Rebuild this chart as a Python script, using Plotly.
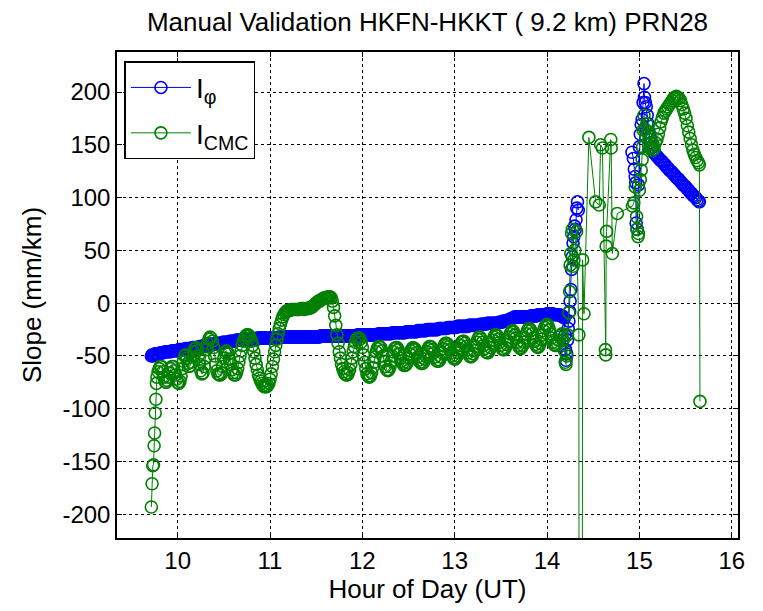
import plotly.graph_objects as go

# epochs (hour of day, UT) shared by both series over the long quiet stretch
hours = [
    9.775, 9.7875, 9.8, 9.8125, 9.825, 9.8375, 9.85, 9.8625, 9.875, 9.8875, 9.9, 9.9125, 9.925, 9.9375, 9.95, 9.9625, 9.975, 9.9875,
    10.0, 10.0125, 10.025, 10.0375, 10.05, 10.0625, 10.075, 10.0875, 10.1, 10.1125, 10.125, 10.1375, 10.15, 10.1625, 10.175, 10.1875,
    10.2, 10.2125, 10.225, 10.2375, 10.25, 10.2625, 10.275, 10.2875, 10.3, 10.3125, 10.325, 10.3375, 10.35, 10.3625, 10.375, 10.3875,
    10.4, 10.4125, 10.425, 10.4375, 10.45, 10.4625, 10.475, 10.4875, 10.5, 10.5125, 10.525, 10.5375, 10.55, 10.5625, 10.575, 10.5875,
    10.6, 10.6125, 10.625, 10.6375, 10.65, 10.6625, 10.675, 10.6875, 10.7, 10.7125, 10.725, 10.7375, 10.75, 10.7625, 10.775, 10.7875,
    10.8, 10.8125, 10.825, 10.8375, 10.85, 10.8625, 10.875, 10.8875, 10.9, 10.9125, 10.925, 10.9375, 10.95, 10.9625, 10.975, 10.9875,
    11.0, 11.0125, 11.025, 11.0375, 11.05, 11.0625, 11.075, 11.0875, 11.1, 11.1125, 11.125, 11.1375, 11.15, 11.1625, 11.175, 11.1875,
    11.2, 11.2125, 11.225, 11.2375, 11.25, 11.2625, 11.275, 11.2875, 11.3, 11.3125, 11.325, 11.3375, 11.35, 11.3625, 11.375, 11.3875,
    11.4, 11.4125, 11.425, 11.4375, 11.45, 11.4625, 11.475, 11.4875, 11.5, 11.5125, 11.525, 11.5375, 11.55, 11.5625, 11.575, 11.5875,
    11.6, 11.6125, 11.625, 11.6375, 11.65, 11.6625, 11.675, 11.6875, 11.7, 11.7125, 11.725, 11.7375, 11.75, 11.7625, 11.775, 11.7875,
    11.8, 11.8125, 11.825, 11.8375, 11.85, 11.8625, 11.875, 11.8875, 11.9, 11.9125, 11.925, 11.9375, 11.95, 11.9625, 11.975, 11.9875,
    12.0, 12.0125, 12.025, 12.0375, 12.05, 12.0625, 12.075, 12.0875, 12.1, 12.1125, 12.125, 12.1375, 12.15, 12.1625, 12.175, 12.1875,
    12.2, 12.2125, 12.225, 12.2375, 12.25, 12.2625, 12.275, 12.2875, 12.3, 12.3125, 12.325, 12.3375, 12.35, 12.3625, 12.375, 12.3875,
    12.4, 12.4125, 12.425, 12.4375, 12.45, 12.4625, 12.475, 12.4875, 12.5, 12.5125, 12.525, 12.5375, 12.55, 12.5625, 12.575, 12.5875,
    12.6, 12.6125, 12.625, 12.6375, 12.65, 12.6625, 12.675, 12.6875, 12.7, 12.7125, 12.725, 12.7375, 12.75, 12.7625, 12.775, 12.7875,
    12.8, 12.8125, 12.825, 12.8375, 12.85, 12.8625, 12.875, 12.8875, 12.9, 12.9125, 12.925, 12.9375, 12.95, 12.9625, 12.975, 12.9875,
    13.0, 13.0125, 13.025, 13.0375, 13.05, 13.0625, 13.075, 13.0875, 13.1, 13.1125, 13.125, 13.1375, 13.15, 13.1625, 13.175, 13.1875,
    13.2, 13.2125, 13.225, 13.2375, 13.25, 13.2625, 13.275, 13.2875, 13.3, 13.3125, 13.325, 13.3375, 13.35, 13.3625, 13.375, 13.3875,
    13.4, 13.4125, 13.425, 13.4375, 13.45, 13.4625, 13.475, 13.4875, 13.5, 13.5125, 13.525, 13.5375, 13.55, 13.5625, 13.575, 13.5875,
    13.6, 13.6125, 13.625, 13.6375, 13.65, 13.6625, 13.675, 13.6875, 13.7, 13.7125, 13.725, 13.7375, 13.75, 13.7625, 13.775, 13.7875,
    13.8, 13.8125, 13.825, 13.8375, 13.85, 13.8625, 13.875, 13.8875, 13.9, 13.9125, 13.925, 13.9375, 13.95, 13.9625, 13.975, 13.9875,
    14.0, 14.0125, 14.025, 14.0375, 14.05, 14.0625, 14.075, 14.0875, 14.1, 14.1125, 14.125, 14.1375, 14.15, 14.1625, 14.175, 14.1875,
]

# I_phi slope (mm/km) on those epochs
i_phi = [
    -48, -48, -48, -47, -47, -47, -47, -46, -46, -46, -46, -46, -46, -45, -45, -45, -45, -45,
    -45, -44, -44, -44, -44, -44, -44, -43, -43, -43, -43, -43, -43, -42, -42, -42,
    -42, -42, -42, -41, -41, -41, -41, -40, -40, -40, -40, -40, -40, -39, -39, -39,
    -39, -38, -38, -38, -38, -38, -38, -37, -37, -37, -37, -37, -37, -36, -36, -36,
    -36, -36, -36, -35, -35, -35, -35, -35, -35, -35, -35, -34, -34, -34, -34, -34,
    -34, -34, -34, -34, -34, -33, -33, -33, -33, -33, -33, -33, -33, -33, -33, -33,
    -33, -33, -33, -33, -33, -33, -33, -33, -32, -32, -32, -32, -32, -32, -32, -32,
    -32, -32, -32, -32, -32, -32, -32, -32, -32, -32, -32, -32, -32, -32, -32, -32,
    -32, -32, -32, -32, -32, -32, -32, -32, -32, -32, -32, -32, -31, -31, -31, -31,
    -31, -31, -31, -31, -31, -31, -31, -31, -31, -31, -31, -31, -31, -31, -31, -31,
    -31, -31, -31, -31, -31, -31, -31, -31, -31, -31, -31, -31, -30, -30, -30, -30,
    -30, -30, -30, -30, -30, -30, -30, -30, -30, -30, -30, -30, -30, -30, -29, -29,
    -29, -29, -29, -29, -29, -29, -29, -29, -29, -29, -28, -28, -28, -28, -28, -28,
    -28, -28, -28, -28, -28, -28, -27, -27, -27, -27, -27, -27, -27, -27, -27, -27,
    -26, -26, -26, -26, -26, -26, -26, -26, -25, -25, -25, -25, -25, -25, -25, -25,
    -25, -25, -24, -24, -24, -24, -24, -24, -24, -24, -23, -23, -23, -23, -23, -23,
    -23, -23, -22, -22, -22, -22, -22, -22, -22, -22, -22, -22, -21, -21, -21, -21,
    -21, -21, -21, -21, -21, -21, -20, -20, -20, -20, -20, -20, -19, -19, -19, -19,
    -19, -19, -19, -19, -19, -19, -18, -18, -18, -18, -17, -17, -17, -17, -16, -16,
    -15, -15, -14, -14, -13, -13, -13, -13, -13, -13, -13, -13, -13, -13, -13, -13,
    -13, -13, -12, -12, -12, -12, -12, -12, -11, -11, -11, -11, -11, -11, -11, -11,
    -10, -10, -10, -10, -10, -10, -11, -11, -11, -11, -11, -11, -12, -12, -13, -14,
]

# I_CMC slope (mm/km) on those epochs
i_cmc = [
    -70, -65, -62, -60, -60, -65, -70, -74, -75, -73, -70, -66, -62, -60, -60, -64, -68, -72,
    -75, -76, -74, -69, -62, -55, -50, -49, -52, -57, -60, -59, -56, -51, -46, -43,
    -42, -45, -50, -58, -64, -67, -66, -60, -52, -44, -38, -34, -32, -33, -36, -42,
    -50, -58, -64, -67, -68, -68, -66, -60, -52, -47, -45, -46, -48, -53, -58, -63,
    -66, -68, -68, -66, -62, -56, -50, -45, -40, -36, -33, -31, -30, -30, -31, -33,
    -36, -40, -46, -52, -58, -63, -68, -71, -74, -76, -78, -79, -79, -79, -78, -76,
    -72, -67, -60, -53, -46, -40, -34, -29, -24, -20, -16, -13, -11, -9, -8, -7,
    -7, -7, -6, -6, -6, -6, -6, -6, -6, -6, -6, -5, -5, -5, -6, -5,
    -5, -5, -5, -4, -4, -3, -2, -1, 0, 1, 2, 2, 3, 4, 4, 5,
    5, 5, 6, 6, 6, 5, 2, -4, -12, -21, -30, -38, -46, -52, -58, -62,
    -65, -67, -68, -68, -66, -63, -58, -52, -46, -41, -37, -34, -33, -33, -34, -37,
    -42, -49, -56, -62, -67, -69, -70, -69, -66, -61, -56, -51, -46, -43, -41, -41,
    -42, -45, -50, -55, -60, -63, -64, -63, -60, -55, -50, -46, -43, -42, -42, -44,
    -48, -52, -55, -57, -59, -59, -58, -56, -52, -48, -45, -43, -42, -43, -44, -47,
    -51, -54, -56, -57, -57, -56, -53, -50, -46, -43, -41, -41, -42, -44, -47, -51,
    -54, -55, -55, -54, -51, -47, -43, -40, -38, -38, -39, -41, -44, -47, -50, -52,
    -53, -52, -50, -47, -43, -40, -37, -36, -36, -38, -41, -44, -47, -50, -51, -50,
    -48, -45, -41, -37, -34, -32, -32, -34, -37, -40, -43, -46, -47, -47, -45, -42,
    -38, -35, -32, -30, -30, -31, -34, -37, -40, -43, -44, -44, -42, -39, -36, -32,
    -29, -27, -26, -27, -30, -33, -37, -40, -42, -43, -42, -40, -37, -33, -29, -26,
    -24, -24, -26, -29, -33, -36, -39, -41, -42, -41, -38, -34, -30, -26, -23, -21,
    -20, -22, -25, -29, -33, -37, -39, -40, -40, -38, -35, -32, -30, -29, -35, -45,
]

# first epochs of the arc
phi_start_h = [9.715, 9.725, 9.735, 9.745, 9.755, 9.765]
phi_start_v = [-50, -49, -50, -49, -48, -48]
cmc_start_h = [9.715, 9.723, 9.731, 9.738, 9.745, 9.750, 9.757, 9.764, 9.770]
cmc_start_v = [-193, -171, -154, -153, -135, -123, -104, -91, -76]

# disturbed part after 14.19 UT
phi_jump_h = [14.195, 14.200, 14.205, 14.213, 14.221, 14.229, 14.237, 14.245,
              14.250, 14.258, 14.266, 14.274, 14.282, 14.290, 14.298, 14.306,
              14.314, 14.322, 14.330, 14.338]
phi_jump_v = [-30, -44, -54, -48, -35, -24, -17, -8,
              2, 13, 32, 44, 57, 63, 73, 70,
              79, 90, 96, 88]

phi_end_h = [14.920, 14.935, 14.945, 14.955, 14.960, 14.965, 14.975, 14.990,
             15.000, 15.010, 15.020, 15.030, 15.040, 15.050, 15.055, 15.065,
             15.075, 15.085, 15.095, 15.105, 15.115, 15.125, 15.135, 15.145,
             15.160, 15.175, 15.190, 15.205, 15.220, 15.235, 15.250, 15.265,
             15.280, 15.295, 15.310, 15.325, 15.340, 15.355, 15.370, 15.385,
             15.400, 15.415, 15.430, 15.445, 15.460, 15.475, 15.490, 15.505,
             15.520, 15.535, 15.550, 15.565, 15.580, 15.595, 15.610, 15.625,
             15.640, 15.650]
phi_end_v = [143, 137, 127, 120, 114, 76, 70, 112,
             148, 160, 169, 174, 190, 208, 195, 190,
             186, 178, 170, 162, 158, 152, 148, 145,
             142, 141, 139, 138, 136, 135, 134, 132,
             131, 129, 128, 126, 125, 124, 122, 121,
             119, 118, 117, 115, 114, 112, 111, 110,
             108, 107, 105, 104, 102, 101, 100, 98,
             97, 96]

cmc_end_h = [14.197, 14.205, 14.213, 14.222, 14.237, 14.245, 14.250, 14.258,
             14.266, 14.274, 14.282, 14.291, 14.300, 14.320, 14.345, 14.360,
             14.385, 14.400, 14.453, 14.526, 14.565, 14.580, 14.600, 14.632,
             14.636, 14.640, 14.645, 14.690, 14.695, 14.707, 14.761, 14.925,
             14.940, 14.955, 14.970, 14.975, 14.985, 14.990, 15.000, 15.010,
             15.020, 15.030, 15.035, 15.040, 15.050, 15.060, 15.070, 15.080,
             15.090, 15.100, 15.110, 15.120, 15.130, 15.140, 15.150, 15.160,
             15.175, 15.190, 15.205, 15.220, 15.235, 15.250, 15.265, 15.280,
             15.295, 15.310, 15.325, 15.340, 15.355, 15.370, 15.385, 15.400,
             15.415, 15.430, 15.445, 15.460, 15.475, 15.490, 15.505, 15.520,
             15.535, 15.550, 15.565, 15.580, 15.595, 15.610, 15.625, 15.640,
             15.650, 15.656]
cmc_end_v = [-56, -58, -50, -30, -9, 11, 36, 47,
             66, 70, 35, 41, 50, 68, -30, -3000,
             41, -10, 157, 96, 93, 150, 147, -44,
             -49, 54, 68, 155, 147, 47, 85, 92,
             95, 110, 82, 70, 63, 66, 107, 117,
             126, 136, 148, 164, 178, 165, 158, 170,
             162, 150, 147, 155, 148, 145, 150, 146,
             152, 155, 160, 166, 172, 176, 180, 182,
             184, 186, 188, 190, 192, 194, 195, 196,
             195, 194, 192, 188, 184, 180, 175, 168,
             162, 156, 150, 145, 141, 138, 135, 133,
             131, -93]

title_text = "Manual Validation HKFN-HKKT ( 9.2 km) PRN28"
x_ticks = [10, 11, 12, 13, 14, 15, 16]
y_ticks = [-200, -150, -100, -50, 0, 50, 100, 150, 200]

x_phi = phi_start_h + hours + phi_jump_h + [None] + phi_end_h
y_phi = phi_start_v + i_phi + phi_jump_v + [None] + phi_end_v
x_cmc = cmc_start_h + hours + cmc_end_h
y_cmc = cmc_start_v + i_cmc + cmc_end_v

font = "Liberation Sans, Arial, sans-serif"

fig = go.Figure()
fig.add_trace(go.Scatter(
    x=x_phi, y=y_phi, mode="lines+markers", name="I<sub>φ</sub>",
    legendgroup="phi",
    line=dict(color="#0000ff", width=1),
    marker=dict(symbol="circle-open", size=12, color="#0000ff",
                line=dict(width=1.6))))
fig.add_trace(go.Scatter(
    x=x_cmc, y=y_cmc, mode="lines+markers", name="I<sub>CMC</sub>",
    legendgroup="cmc",
    line=dict(color="#008000", width=1),
    marker=dict(symbol="circle-open", size=12, color="#008000",
                line=dict(width=1.6))))

axis_style = dict(
    showline=True, linecolor="black", linewidth=1.5, mirror="ticks",
    ticks="inside", ticklen=5, tickcolor="black", tickwidth=1,
    showgrid=True, gridcolor="black", gridwidth=1, griddash="dot",
    zeroline=False, tickfont=dict(size=24, family=font, color="black"),
)

fig.update_xaxes(range=[9.343, 16.068], tickvals=x_ticks,
                 ticktext=[str(t) for t in x_ticks],
                 title=dict(text="Hour of Day (UT)", standoff=4,
                            font=dict(size=26, family=font)),
                 **axis_style)
fig.update_yaxes(range=[-222.4, 237.9], tickvals=y_ticks,
                 ticktext=[str(t) for t in y_ticks],
                 title=dict(text="Slope (mm/km)", standoff=13,
                            font=dict(size=26, family=font)),
                 **axis_style)

# the page body keeps an 8 px margin, so the figure is 8 px smaller
fig.update_layout(
    width=755, height=603,
    margin=dict(l=109, r=25, t=44, b=73, autoexpand=False),
    paper_bgcolor="white", plot_bgcolor="white",
    font=dict(family=font, size=24, color="black"),
    title=dict(text=title_text, x=0.5, xref="paper", xanchor="center",
               y=1 - 14 / 603, yref="container", yanchor="middle",
               font=dict(size=26, family=font, color="black")),
    legend=dict(x=0.012, y=0.981, xanchor="left", yanchor="top",
                bgcolor="white", bordercolor="black", borderwidth=1.5,
                font=dict(size=28, family=font, color="black"),
                itemwidth=60, tracegroupgap=6),
)

fig.write_html("out.html")
